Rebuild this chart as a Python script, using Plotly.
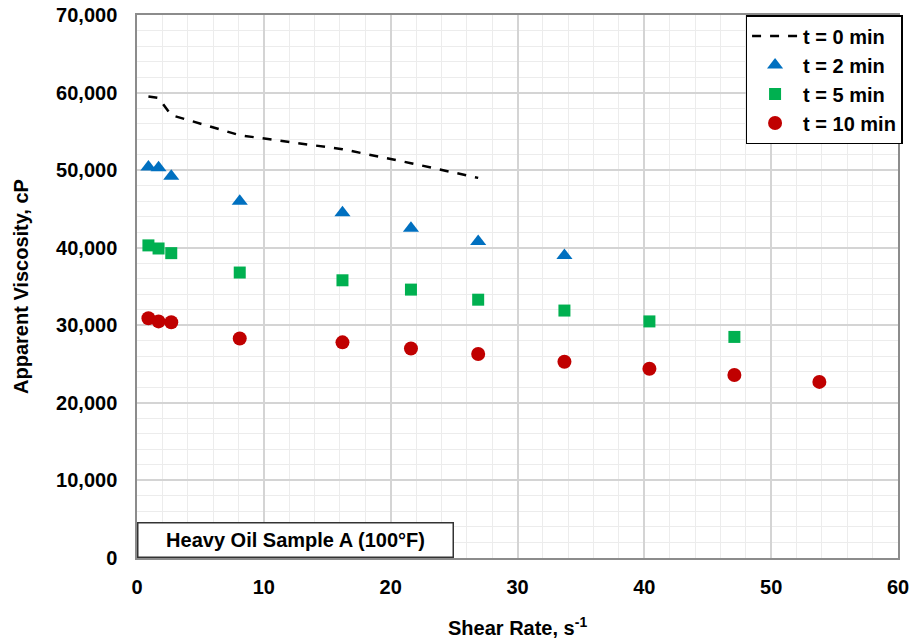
import plotly.graph_objects as go

# Data
shear_t0 = [0.9, 1.7, 2.7, 8.1, 16.2, 21.6, 26.9]
visc_t0 = [59500, 59300, 57100, 54500, 52700, 50900, 49000]

shear_t2 = [0.9, 1.7, 2.7, 8.1, 16.2, 21.6, 26.9, 33.7]
visc_t2 = [50400, 50300, 49200, 46000, 44500, 42500, 40800, 39000]

shear_t5 = [0.9, 1.7, 2.7, 8.1, 16.2, 21.6, 26.9, 33.7, 40.4, 47.1]
visc_t5 = [40300, 39900, 39300, 36800, 35800, 34600, 33300, 31900, 30500, 28500]

shear_t10 = [0.9, 1.7, 2.7, 8.1, 16.2, 21.6, 26.9, 33.7, 40.4, 47.1, 53.8]
visc_t10 = [30900, 30500, 30400, 28300, 27800, 27000, 26300, 25300, 24400, 23600, 22700]

series_names = ["t = 0 min", "t = 2 min", "t = 5 min", "t = 10 min"]
x_ticks = [0, 10, 20, 30, 40, 50, 60]
y_ticks = [0, 10000, 20000, 30000, 40000, 50000, 60000, 70000]

FONT = "Arial, Liberation Sans, sans-serif"
BOLD20 = dict(family=FONT, size=20, color="black", weight="bold")

fig = go.Figure()
fig.add_trace(go.Scatter(x=shear_t0, y=visc_t0, mode="lines", name=series_names[0],
                         line=dict(color="black", width=2.5, dash="dash")))
fig.add_trace(go.Scatter(x=shear_t2, y=visc_t2, mode="markers", name=series_names[1],
                         marker=dict(symbol="triangle-up", size=14, color="#0070C0")))
fig.add_trace(go.Scatter(x=shear_t5, y=visc_t5, mode="markers", name=series_names[2],
                         marker=dict(symbol="square", size=12, color="#00B050")))
fig.add_trace(go.Scatter(x=shear_t10, y=visc_t10, mode="markers", name=series_names[3],
                         marker=dict(symbol="circle", size=14, color="#C00000")))

axis_common = dict(
    showline=True, linecolor="#8c8c8c", linewidth=1.5, mirror=True,
    showgrid=True, gridcolor="#d4d4d4", gridwidth=1.5,
    zeroline=False, ticks="", automargin=False,
    tickfont=BOLD20,
)

fig.update_xaxes(
    range=[0, 60], tickvals=x_ticks, ticktext=[str(v) for v in x_ticks],
    minor=dict(dtick=2, showgrid=True, gridcolor="#ececec", gridwidth=1),
    ticklabelstandoff=10,
    **axis_common)
fig.update_yaxes(
    range=[0, 70000], tickvals=y_ticks, ticktext=[f"{v:,}" for v in y_ticks],
    minor=dict(dtick=2000, showgrid=True, gridcolor="#ececec", gridwidth=1),
    title=dict(text="Apparent Viscosity, cP", standoff=22, font=BOLD20),
    ticklabelstandoff=14,
    **axis_common)

# x-axis title placed as a paper annotation
fig.add_annotation(
    x=0.5, y=-0.127, xref="paper", yref="paper", xanchor="center", yanchor="middle",
    text="Shear Rate, s<sup>-1</sup>", showarrow=False, font=BOLD20,
)

fig.add_annotation(
    x=0, y=0, xref="x", yref="y", xanchor="left", yanchor="bottom",
    text="Heavy Oil Sample A (100°F)", showarrow=False,
    font=BOLD20, width=310, height=29, align="center",
    bgcolor="white", bordercolor="#333333", borderwidth=1.5, borderpad=2,
)

fig.update_layout(
    width=917, height=640,
    margin=dict(l=137, r=19, t=15, b=82),
    plot_bgcolor="white", paper_bgcolor="white",
    font=dict(family=FONT, color="black"),
    legend=dict(x=1.006, y=1, xanchor="right", yanchor="top",
                bgcolor="white", bordercolor="black", borderwidth=1.5,
                font=BOLD20, tracegroupgap=0, itemwidth=46),
    showlegend=True,
)

fig.write_html("out.html")
